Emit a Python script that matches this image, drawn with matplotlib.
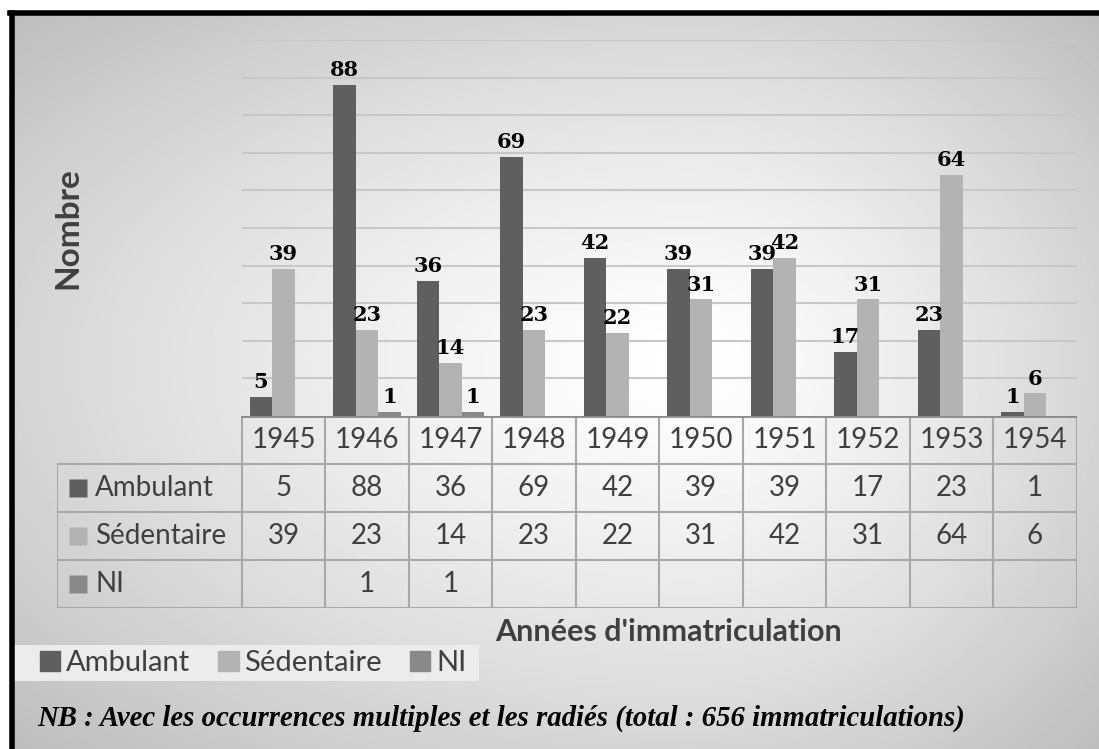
import numpy as np
import matplotlib
matplotlib.use('Agg')
import matplotlib.pyplot as plt
from matplotlib.patches import Rectangle

years = ['1945', '1946', '1947', '1948', '1949', '1950', '1951', '1952', '1953', '1954']
ambulant = [5, 88, 36, 69, 42, 39, 39, 17, 23, 1]
sedentaire = [39, 23, 14, 23, 22, 31, 42, 31, 64, 6]
ni = [None, 1, 1, None, None, None, None, None, None, None]
series_names = ['Ambulant', 'Sédentaire', 'NI']
colors = ['#5f5f5f', '#b3b3b3', '#898989']

W, H = 1099, 749
fig = plt.figure(figsize=(W / 100, H / 100), dpi=100)
fig.patch.set_facecolor('white')

txt_color = '#404040'
sans = 'Lato'
serif = 'DejaVu Serif'


def fx(px):
    return px / W


def fy(py):
    return 1 - py / H


# background gradient (white centre, grey edges) inside the black frame
bg = fig.add_axes([fx(12), 0, 1 - fx(12), fy(13)], zorder=-10)
yy, xx = np.mgrid[13:H, 12:W]
cx, cy = 690.0, 360.0
ex = np.where(xx < cx, cx - 12, W - cx)
ey = np.where(yy < cy, cy - 13, H - cy)
r = np.sqrt(((xx - cx) / ex) ** 2 + ((yy - cy) / ey) ** 2) / np.sqrt(2)
shade = 1 - 0.26 * np.clip(r, 0, 1) ** 1.3
bg.imshow(shade, cmap='gray', vmin=0, vmax=1, aspect='auto', interpolation='bilinear')
bg.set_axis_off()

# black frame (top and left)
fig.add_artist(plt.Line2D([fx(11.5), fx(11.5)], [0, fy(13)], color='black', lw=4))
fig.add_artist(plt.Line2D([fx(9.5), 1], [fy(13), fy(13)], color='black', lw=4))

# bars
ax = fig.add_axes([fx(241.7), fy(416), fx(1076.7 - 241.7), (416 - 40) / H])
ax.patch.set_alpha(0)
x = np.arange(len(years))
bw = 0.27
all_vals = [ambulant, sedentaire, ni]
for k in range(3):
    vals = all_vals[k]
    xs = [x[i] + (k - 1) * bw for i in range(len(years)) if vals[i] is not None]
    hs = [v for v in vals if v is not None]
    bars = ax.bar(xs, hs, width=bw, color=colors[k], zorder=3)
    for b, v in zip(bars, hs):
        ax.annotate(str(v), (b.get_x() + b.get_width() / 2, v), xytext=(0, 3.5),
                    textcoords='offset points', ha='center', va='bottom',
                    fontsize=15, fontweight='bold', family=serif, color='black', zorder=4)
ax.set_xlim(-0.5, len(years) - 0.5)
ax.set_ylim(0, 100)
ax.set_yticks(np.arange(10, 101, 10))
ax.yaxis.grid(True, color='#c8c8c8', lw=1.5)
ax.set_axisbelow(True)
ax.tick_params(left=False, bottom=False, labelleft=False, labelbottom=False)
for s in ax.spines.values():
    s.set_visible(False)

# data table
tab = fig.add_axes([fx(57), fy(608), fx(1076.7 - 57), (608 - 416) / H])
tab.set_axis_off()
lab_w = (241.7 - 57) / 83.5
x0 = -0.5 - lab_w
tab.set_xlim(x0, len(years) - 0.5)
tab.set_ylim(0, 4)
lc = '#a8a8a8'
for i in range(len(years) + 1):
    tab.plot([i - 0.5, i - 0.5], [0, 4], color=lc, lw=1.5)
tab.plot([x0, x0], [0, 3], color=lc, lw=1.5)
for j in range(4):
    tab.plot([x0, len(years) - 0.5], [j, j], color=lc, lw=1.5)
tab.plot([-0.5, len(years) - 0.5], [4, 4], color='#8a8a8a', lw=2)

fs = 20
for i, yr in enumerate(years):
    tab.text(i, 3.5, yr, ha='center', va='center', fontsize=fs, family=sans, color=txt_color)
for k in range(3):
    yrow = 2.5 - k
    tab.plot([x0 + (77.5 - 57) / 83.5], [yrow], marker='s', ms=13.5, color=colors[k], mec='none')
    tab.text(x0 + (95 - 57) / 83.5, yrow, series_names[k], ha='left', va='center',
             fontsize=fs, family=sans, color=txt_color)
    for i, v in enumerate(all_vals[k]):
        if v is not None:
            tab.text(i, yrow, str(v), ha='center', va='center', fontsize=fs, family=sans, color=txt_color)

# axis titles
fig.text(fx(68), fy(228), 'Nombre', rotation=90, ha='center', va='center',
         fontsize=24, fontweight='bold', family=sans, color=txt_color)
fig.text(fx(669), fy(632), "Années d'immatriculation", ha='center', va='center',
         fontsize=22, fontweight='bold', family=sans, color=txt_color)

# legend with a light band behind it
fig.add_artist(Rectangle((fx(14), fy(681)), fx(479 - 14), (681 - 645) / H,
                         transform=fig.transFigure, facecolor='#ececec', edgecolor='none', zorder=1))
handles = [Rectangle((0, 0), 1, 1, color=c) for c in colors]
leg = fig.legend(handles, series_names, loc='center left', bbox_to_anchor=(fx(40), fy(663)),
                 ncol=3, frameon=False, handlelength=0.7, handleheight=0.7,
                 handletextpad=0.2, columnspacing=0.95, borderpad=0, borderaxespad=0,
                 prop={'family': sans, 'size': 21})
for t in leg.get_texts():
    t.set_color(txt_color)

# note
fig.text(fx(37), fy(718), 'NB : Avec les occurrences multiples et les radiés (total : 656 immatriculations)',
         ha='left', va='center', fontsize=20.7, fontweight='bold', style='italic',
         family='Liberation Serif', color='black')

fig.savefig('out.png', dpi=100)
